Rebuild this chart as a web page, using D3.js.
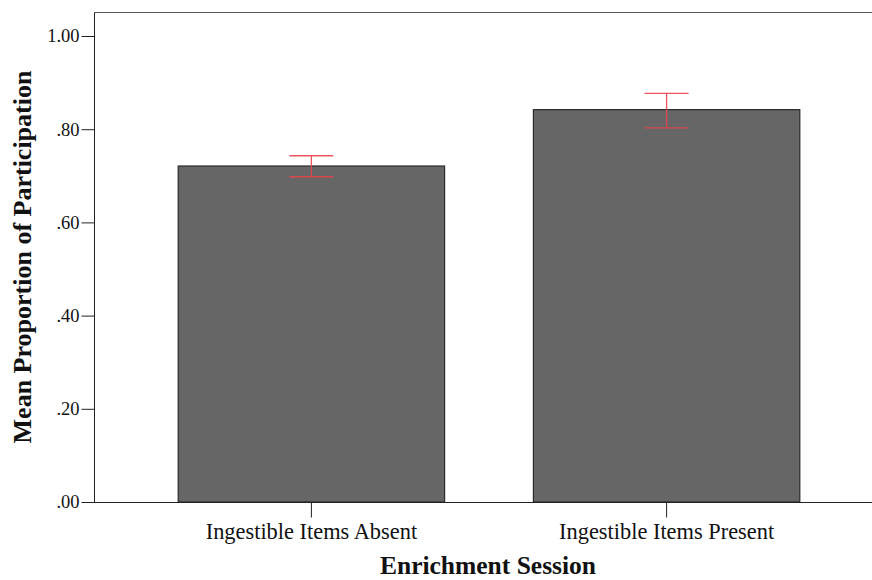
<!DOCTYPE html>
<html>
<head>
<meta charset="utf-8">
<script src="https://cdn.jsdelivr.net/npm/d3@7/dist/d3.min.js"></script>
<style>
  html, body { margin: 0; padding: 0; background: #fff; }
  svg { display: block; }
  text { font-family: "Liberation Serif", "Times New Roman", serif; fill: #111; }
</style>
</head>
<body>
<svg id="chart" width="872" height="580"></svg>
<script>
// Mean proportion of participation by enrichment session, with error bars
const categories = ["Ingestible Items Absent", "Ingestible Items Present"];
const means = [0.721, 0.842];
const errLow = [0.698, 0.803];
const errHigh = [0.743, 0.877];
const yTicks = [0, 0.2, 0.4, 0.6, 0.8, 1.0];
const yTickLabels = [".00", ".20", ".40", ".60", ".80", "1.00"];

const svg = d3.select("#chart");
const W = 872, H = 580;
const plotLeft = 94, plotRight = 884, plotTop = 12, plotBottom = 502;

const x = d3.scaleBand()
  .domain(categories)
  .range([plotLeft, plotRight])
  .paddingInner(0.25)
  .paddingOuter(0.237);

const y = d3.scaleLinear()
  .domain([0, 1.0515])
  .range([plotBottom, plotTop]);

// frame: left axis and top line
svg.append("line").attr("x1", plotLeft + 0.5).attr("x2", plotLeft + 0.5)
  .attr("y1", plotTop).attr("y2", plotBottom).attr("stroke", "#222").attr("stroke-width", 1);
svg.append("line").attr("x1", plotLeft).attr("x2", W)
  .attr("y1", plotTop + 0.5).attr("y2", plotTop + 0.5).attr("stroke", "#555").attr("stroke-width", 1);

// bars
svg.append("g").selectAll("rect")
  .data(categories)
  .join("rect")
  .attr("x", d => x(d))
  .attr("y", (d, i) => y(means[i]))
  .attr("width", x.bandwidth())
  .attr("height", (d, i) => y(0) - y(means[i]))
  .attr("fill", "#666666")
  .attr("stroke", "#2b2b2b")
  .attr("stroke-width", 1.2);

// error bars
const capHalf = 22;
const eb = svg.append("g").attr("stroke", "#e8424c").attr("stroke-width", 1.3).attr("stroke-opacity", 0.9);
categories.forEach((c, i) => {
  const cx = x(c) + x.bandwidth() / 2;
  eb.append("line").attr("x1", cx).attr("x2", cx).attr("y1", y(errHigh[i])).attr("y2", y(errLow[i]));
  eb.append("line").attr("x1", cx - capHalf).attr("x2", cx + capHalf).attr("y1", y(errHigh[i])).attr("y2", y(errHigh[i]));
  eb.append("line").attr("x1", cx - capHalf).attr("x2", cx + capHalf).attr("y1", y(errLow[i])).attr("y2", y(errLow[i]));
});

// y axis
const yAxis = d3.axisLeft(y)
  .tickValues(yTicks)
  .tickFormat((d, i) => yTickLabels[i])
  .tickSize(13)
  .tickPadding(2);
const gy = svg.append("g").attr("transform", `translate(${plotLeft + 0.5},0)`).call(yAxis);
gy.select(".domain").remove();
gy.selectAll(".tick line").attr("stroke", "#222");
gy.selectAll(".tick text").attr("font-size", 18.5).attr("font-family", "Liberation Serif").attr("fill", "#111");

// x axis
const xAxis = d3.axisBottom(x).tickSize(15).tickPadding(6);
const gx = svg.append("g").attr("transform", `translate(0,${plotBottom + 0.5})`).call(xAxis);
gx.select(".domain").remove();
gx.selectAll(".tick line").attr("stroke", "#222");
gx.selectAll(".tick text").attr("font-size", 22.4).attr("font-family", "Liberation Serif").attr("fill", "#111");
svg.append("line").attr("x1", plotLeft).attr("x2", W)
  .attr("y1", plotBottom + 0.5).attr("y2", plotBottom + 0.5).attr("stroke", "#222").attr("stroke-width", 1);

// titles
svg.append("text")
  .attr("x", 488).attr("y", 574)
  .attr("text-anchor", "middle")
  .attr("font-size", 25.5).attr("font-weight", "bold")
  .text("Enrichment Session");

svg.append("text")
  .attr("transform", "translate(31,257) rotate(-90)")
  .attr("text-anchor", "middle")
  .attr("font-size", 26).attr("font-weight", "bold")
  .text("Mean Proportion of Participation");
</script>
</body>
</html>
